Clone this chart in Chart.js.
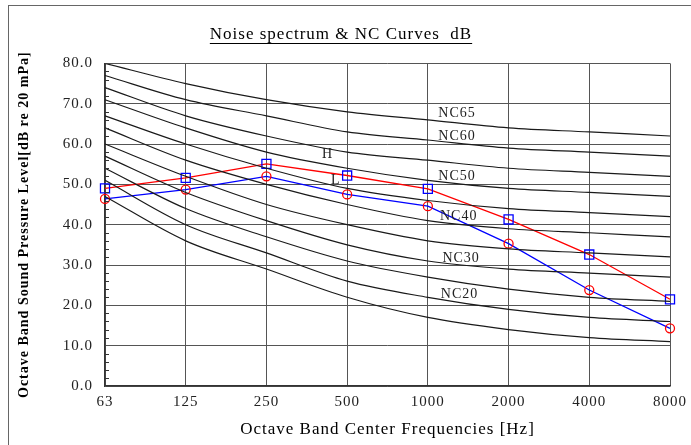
<!DOCTYPE html>
<html>
<head>
<meta charset="utf-8">
<script src="https://cdn.jsdelivr.net/npm/chart.js@4"></script>
<style>
  body { margin: 0; background: #fff; }
  #wrap { width: 691px; height: 445px; position: relative; }
</style>
</head>
<body>
<div id="wrap"><canvas id="nc"></canvas></div>
<script>
// Octave bands
const freqLabels = ['63', '125', '250', '500', '1000', '2000', '4000', '8000'];

// NC curves (dB)
const nc15 = [47, 36, 29, 22, 17, 14, 12, 11];
const nc20 = [51, 40, 33, 26, 22, 19, 17, 16];
const nc25 = [54, 44, 37, 31, 27, 24, 22, 21];
const nc30 = [57, 48, 41, 35, 31, 29, 28, 27];
const nc35 = [60, 52, 45, 40, 36, 34, 33, 32];
const nc40 = [64, 56, 50, 45, 41, 39, 38, 37];
const nc45 = [67, 60, 54, 49, 46, 44, 43, 42];
const nc50 = [71, 64, 58, 54, 51, 49, 48, 47];
const nc55 = [74, 67, 62, 58, 56, 54, 53, 52];
const nc60 = [77, 71, 67, 63, 61, 59, 58, 57];
const nc65 = [80, 75, 71, 68, 66, 64, 63, 62];

// measured spectrum
const spectrumH = [49.0, 51.6, 55.1, 52.2, 48.9, 41.3, 32.6, 21.5];
const spectrumL = [46.4, 48.7, 52.0, 47.5, 44.6, 35.3, 23.8, 14.3];

// text labels on the plot (x = band index, y = dB)
const curveNames = ['NC65', 'NC60', 'NC50', 'NC40', 'NC30', 'NC20', 'H', 'L'];
const curveLabelX = [4.13, 4.13, 4.13, 4.15, 4.18, 4.16, 2.69, 2.8];
const curveLabelY = [67.6, 61.9, 52.0, 42.1, 31.7, 22.8, 57.4, 51.0];

const serif = "'Liberation Serif', 'DejaVu Serif', serif";

var ncSets = [nc15, nc20, nc25, nc30, nc35, nc40, nc45, nc50, nc55, nc60, nc65];
var datasets = [];
for (var i = 0; i < ncSets.length; i++) {
  datasets.push({
    label: 'NC' + (15 + i * 5),
    data: ncSets[i],
    borderColor: '#1a1a1a',
    borderWidth: 1.2,
    pointRadius: 0,
    cubicInterpolationMode: 'monotone'
  });
}
datasets.push({
  label: 'L',
  data: spectrumL,
  borderColor: '#0000ff',
  borderWidth: 1.3,
  pointStyle: 'circle',
  pointRadius: 4.5,
  pointBorderColor: '#ff0000',
  pointBackgroundColor: 'rgba(0,0,0,0)',
  pointBorderWidth: 1.3
});
datasets.push({
  label: 'H',
  data: spectrumH,
  borderColor: '#ff0000',
  borderWidth: 1.3,
  pointStyle: 'rect',
  pointRadius: 6.4,
  pointBorderColor: '#0000ff',
  pointBackgroundColor: 'rgba(0,0,0,0)',
  pointBorderWidth: 1.3
});

// extras: frame, title underline, minor ticks, curve labels
const extras = {
  id: 'extras',
  beforeUpdate(chart) { chart.ctx.letterSpacing = '1px'; },
  beforeDraw(chart) {
    const ctx = chart.ctx;
    ctx.letterSpacing = '1px';
    ctx.save();
    ctx.fillStyle = '#fff';
    ctx.fillRect(0, 0, chart.width, chart.height);
    ctx.strokeStyle = '#666';
    ctx.lineWidth = 1;
    ctx.strokeRect(8.5, 5.5, chart.width + 10, chart.height + 10);
    ctx.restore();
  },
  afterDraw(chart) {
    const ctx = chart.ctx;
    const xs = chart.scales.x, ys = chart.scales.y;
    ctx.save();
    // minor ticks every 2 dB
    ctx.strokeStyle = '#333';
    ctx.lineWidth = 1;
    for (var v = 2; v < 80; v += 2) {
      if (v % 10 === 0) continue;
      var py = Math.round(ys.getPixelForValue(v)) + 0.5;
      ctx.beginPath();
      ctx.moveTo(chart.chartArea.left, py);
      ctx.lineTo(chart.chartArea.left + 4, py);
      ctx.stroke();
    }
    // curve labels
    ctx.fillStyle = '#222';
    ctx.font = '14px ' + serif;
    ctx.textBaseline = 'middle';
    ctx.textAlign = 'left';
    for (var k = 0; k < curveNames.length; k++) {
      ctx.fillText(curveNames[k], xs.getPixelForValue(curveLabelX[k]), ys.getPixelForValue(curveLabelY[k]));
    }
    // title underline
    const tb = chart.titleBlock;
    ctx.font = '17px ' + serif;
    const w = ctx.measureText(chart.options.plugins.title.text).width;
    const cx = (tb.left + tb.right) / 2;
    const uy = tb.top + tb.options.padding.top + 19.5;
    ctx.strokeStyle = '#000';
    ctx.beginPath();
    ctx.moveTo(cx - w / 2, uy);
    ctx.lineTo(cx + w / 2, uy);
    ctx.stroke();
    ctx.restore();
  }
};

const nc_Chart = new Chart(document.getElementById('nc'), {
  type: 'line',
  data: { labels: freqLabels, datasets: datasets },
  plugins: [extras],
  options: {
    responsive: true,
    maintainAspectRatio: false,
    animation: false,
    layout: { padding: { left: 12, right: 21, top: 19, bottom: 5 } },
    plugins: {
      legend: { display: false },
      tooltip: { enabled: false },
      title: {
        display: true,
        text: 'Noise spectrum & NC Curves  dB',
        color: '#000',
        font: { family: serif, size: 17, weight: 'normal' },
        padding: { top: 5, bottom: 19 }
      }
    },
    scales: {
      x: {
        offset: false,
        grid: { color: '#555', lineWidth: 1, drawTicks: false },
        border: { color: '#333', width: 1.5 },
        ticks: { color: '#222', font: { family: serif, size: 15 }, padding: 7, maxRotation: 0 },
        title: {
          display: true,
          text: 'Octave Band Center Frequencies [Hz]',
          color: '#000',
          font: { family: serif, size: 17 },
          padding: { top: 0, bottom: 0 }
        },
        afterFit(scale) {
          scale.height = 54;
          scale.paddingLeft = 0;
          scale.paddingRight = 0;
        }
      },
      y: {
        min: 0,
        max: 80,
        ticks: {
          stepSize: 10,
          color: '#222',
          font: { family: serif, size: 15 },
          padding: 12,
          callback: function (v) { return v.toFixed(1); }
        },
        grid: { color: '#555', lineWidth: 1, drawTicks: false },
        border: { color: '#333', width: 1.5 },
        title: {
          display: true,
          text: 'Octave Band Sound Pressure Level[dB re 20 mPa]',
          color: '#000',
          font: { family: serif, size: 14, weight: 'bold' },
          padding: { top: 4, bottom: 0 }
        },
        afterFit(scale) { scale.width = 93; }
      }
    }
  }
});
</script>
</body>
</html>
